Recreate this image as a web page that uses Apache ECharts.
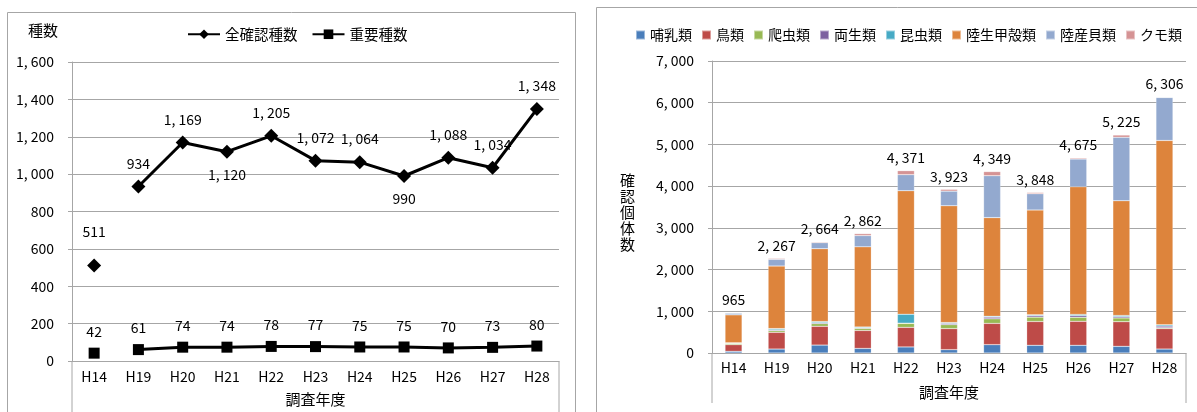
<!DOCTYPE html>
<html>
<head>
<meta charset="utf-8">
<script src="https://cdn.jsdelivr.net/npm/echarts@6/dist/echarts.min.js"></script>
<style>
html,body{margin:0;padding:0;background:#fff;}
#main{width:1197px;height:412px;}
</style>
</head>
<body>
<div id="main"></div>
<script>
//調査年度
var years = ['H14','H19','H20','H21','H22','H23','H24','H25','H26','H27','H28'];

//左：種数
var allSpecies = [511, 934, 1169, 1120, 1205, 1072, 1064, 990, 1088, 1034, 1348];
var importantSpecies = [42, 61, 74, 74, 78, 77, 75, 75, 70, 73, 80];
var leftTicks = [0, 200, 400, 600, 800, 1000, 1200, 1400, 1600];

//右：確認個体数（分類群ごと）
var groupNames = ['哺乳類','鳥類','爬虫類','両生類','昆虫類','陸生甲殻類','陸産貝類','クモ類'];
var mammals     = [40,  95, 190, 110, 145,  80, 200, 185, 185, 160,  95];
var birds       = [160, 400, 450, 430, 470, 505, 510, 570, 575, 590, 490];
var reptiles    = [30,  40,  65,  50,  95,  95, 110, 105,  95,  90,  20];
var amphibians  = [5,   20,  20,  15,   5,  30,  40,  35,  40,  30,  40];
var insects     = [10,  30,  30,  20, 215,  20,  20,  20,  30,  30,  30];
var crustaceans = [670, 1500, 1745, 1920, 2960, 2800, 2365, 2513, 3060, 2750, 4420];
var snails      = [40, 160, 145, 270, 385, 350, 1005, 390, 665, 1520, 1030];
var spiders     = [10,  22,  19,  47,  96,  43,  99,  30,  25,  55,  10];
var totals      = [965, 2267, 2664, 2862, 4371, 3923, 4349, 3848, 4675, 5225, 6306];
var rightTicks  = [0, 1000, 2000, 3000, 4000, 5000, 6000, 7000];

var groupColors = ['#4a7ebb','#be4b48','#98b954','#7d60a0','#46aac5','#dd843c','#93a9cf','#d59394'];

var FONT = '"Noto Sans CJK JP", "Noto Sans", sans-serif';

//数値を「1, 600」の形に
function fmt(v){
    if(v < 1000){
        return String(v);
    }
    var r = v % 1000;
    return Math.floor(v/1000) + ', ' + (r < 10 ? '00' + r : r < 100 ? '0' + r : r);
}
function labelFmt(p){
    return fmt(p.value);
}

//グリッド位置
var L = {left:72, right:559, top:62, bottom:361};
var R = {left:712, right:1186, top:61, bottom:353};

//ラベルを下に出す点（H21, H25）
var labelBelow = [3, 7];

var chart = echarts.init(document.getElementById('main'));

var barSeries = [];
var groupData = [mammals, birds, reptiles, amphibians, insects, crustaceans, snails, spiders];
for(var g = 0; g < groupNames.length; g++){
    var s = {
        name: groupNames[g],
        type: 'bar',
        stack: 'total',
        xAxisIndex: 1,
        yAxisIndex: 1,
        barWidth: 17,
        itemStyle: {color: groupColors[g], borderColor: 'rgba(255,255,255,0.45)', borderWidth: 0.5},
        data: groupData[g]
    };
    if(g == groupNames.length - 1){
        s.label = {
            show: true,
            position: 'top',
            distance: 6,
            color: '#000',
            fontSize: 14,
            fontFamily: FONT,
            formatter: function(p){ return fmt(totals[p.dataIndex]); }
        };
    }
    barSeries.push(s);
}

var lineLabel = {show:true, position:'top', distance:9, color:'#000', fontSize:14, fontFamily:FONT, formatter:labelFmt};

var option = {
    animation: false,
    textStyle: {fontFamily: FONT},
    legend: [
        {
            data: ['全確認種数','重要種数'],
            left: 182, top: 22,
            itemWidth: 32, itemHeight: 12, itemGap: 14,
            textStyle: {fontSize: 14.5, color: '#000', fontFamily: FONT}
        },
        {
            data: groupNames,
            left: 630, top: 23, width: 600,
            icon: 'rect',
            itemWidth: 9, itemHeight: 9, itemGap: 9,
            textStyle: {fontSize: 14, color: '#000', fontFamily: FONT}
        }
    ],
    grid: [
        {left: L.left, top: L.top, width: L.right - L.left, height: L.bottom - L.top, outerBoundsMode: 'none'},
        {left: R.left, top: R.top, width: R.right - R.left, height: R.bottom - R.top, outerBoundsMode: 'none'}
    ],
    xAxis: [
        {
            type: 'category', gridIndex: 0, data: years,
            name: '調査年度', nameLocation: 'middle', nameGap: 31,
            nameTextStyle: {fontSize: 15, color: '#000', fontFamily: FONT},
            axisLine: {lineStyle: {color: '#a6a6a6', width: 1}},
            axisTick: {length: 22, lineStyle: {color: '#a6a6a6'}},
            axisLabel: {color: '#000', fontSize: 14, margin: 9}
        },
        {
            type: 'category', gridIndex: 1, data: years,
            name: '調査年度', nameLocation: 'middle', nameGap: 32,
            nameTextStyle: {fontSize: 15, color: '#000', fontFamily: FONT},
            axisLine: {lineStyle: {color: '#a6a6a6', width: 1}},
            axisTick: {length: 22, lineStyle: {color: '#a6a6a6'}},
            axisLabel: {color: '#000', fontSize: 14, margin: 8}
        }
    ],
    yAxis: [
        {
            type: 'value', gridIndex: 0, min: leftTicks[0], max: leftTicks[leftTicks.length-1], interval: 200,
            axisLine: {show: true, lineStyle: {color: '#a6a6a6'}},
            axisTick: {show: true, length: 4, lineStyle: {color: '#a6a6a6'}},
            splitLine: {lineStyle: {color: '#a6a6a6', width: 1}},
            axisLabel: {color: '#000', fontSize: 14, margin: 18, formatter: fmt}
        },
        {
            type: 'value', gridIndex: 1, min: rightTicks[0], max: rightTicks[rightTicks.length-1], interval: 1000,
            axisLine: {show: true, lineStyle: {color: '#a6a6a6'}},
            axisTick: {show: true, length: 4, lineStyle: {color: '#a6a6a6'}},
            splitLine: {lineStyle: {color: '#a6a6a6', width: 1}},
            axisLabel: {color: '#000', fontSize: 14, margin: 18, formatter: fmt}
        }
    ],
    series: [
        //全確認種数（H19以降は線でつなぐ）
        {
            name: '全確認種数', type: 'line', xAxisIndex: 0, yAxisIndex: 0,
            symbol: 'diamond', symbolSize: 14,
            lineStyle: {color: '#000', width: 3},
            itemStyle: {color: '#000'},
            label: lineLabel,
            data: allSpecies.map(function(v, i){
                if(i == 0) return null;
                if(labelBelow.indexOf(i) >= 0){
                    return {value: v, label: {position: 'bottom', distance: 9}};
                }
                return v;
            })
        },
        //H14だけ単独
        {
            name: '全確認種数', type: 'line', xAxisIndex: 0, yAxisIndex: 0,
            symbol: 'diamond', symbolSize: 14,
            lineStyle: {color: '#000', width: 3},
            itemStyle: {color: '#000'},
            label: {show:true, position:'top', distance:20, color:'#000', fontSize:14, fontFamily:FONT, formatter:labelFmt},
            data: allSpecies.map(function(v, i){ return i == 0 ? v : null; })
        },
        {
            name: '重要種数', type: 'line', xAxisIndex: 0, yAxisIndex: 0,
            symbol: 'rect', symbolSize: 11,
            lineStyle: {color: '#000', width: 3},
            itemStyle: {color: '#000'},
            label: lineLabel,
            data: importantSpecies.map(function(v, i){ return i == 0 ? null : v; })
        },
        {
            name: '重要種数', type: 'line', xAxisIndex: 0, yAxisIndex: 0,
            symbol: 'rect', symbolSize: 11,
            lineStyle: {color: '#000', width: 3},
            itemStyle: {color: '#000'},
            label: lineLabel,
            data: importantSpecies.map(function(v, i){ return i == 0 ? v : null; })
        }
    ].concat(barSeries),
    graphic: [
        //枠
        {type: 'rect', shape: {x: 7.5, y: 12.5, width: 568, height: 430}, style: {fill: 'none', stroke: '#a6a6a6', lineWidth: 1}},
        {type: 'rect', shape: {x: 596.5, y: 7.5, width: 640, height: 430}, style: {fill: 'none', stroke: '#a6a6a6', lineWidth: 1}},
        //軸の表の縦線
        {type: 'line', shape: {x1: L.left, y1: L.bottom, x2: L.left, y2: 412}, style: {stroke: '#a6a6a6', lineWidth: 1}},
        {type: 'line', shape: {x1: L.right, y1: L.bottom, x2: L.right, y2: 412}, style: {stroke: '#a6a6a6', lineWidth: 1}},
        {type: 'line', shape: {x1: R.left, y1: R.bottom, x2: R.left, y2: 403}, style: {stroke: '#a6a6a6', lineWidth: 1}},
        {type: 'line', shape: {x1: R.right, y1: R.bottom, x2: R.right, y2: 403}, style: {stroke: '#a6a6a6', lineWidth: 1}},
        //軸タイトル
        {type: 'text', left: 28, top: 23, style: {text: '種数', fontSize: 15, fill: '#000', fontFamily: FONT}},
        {type: 'text', left: 620, top: 172, style: {text: '確\n認\n個\n体\n数', fontSize: 15, lineHeight: 16, fill: '#000', fontFamily: FONT}}
    ]
};

chart.setOption(option);
</script>
</body>
</html>
